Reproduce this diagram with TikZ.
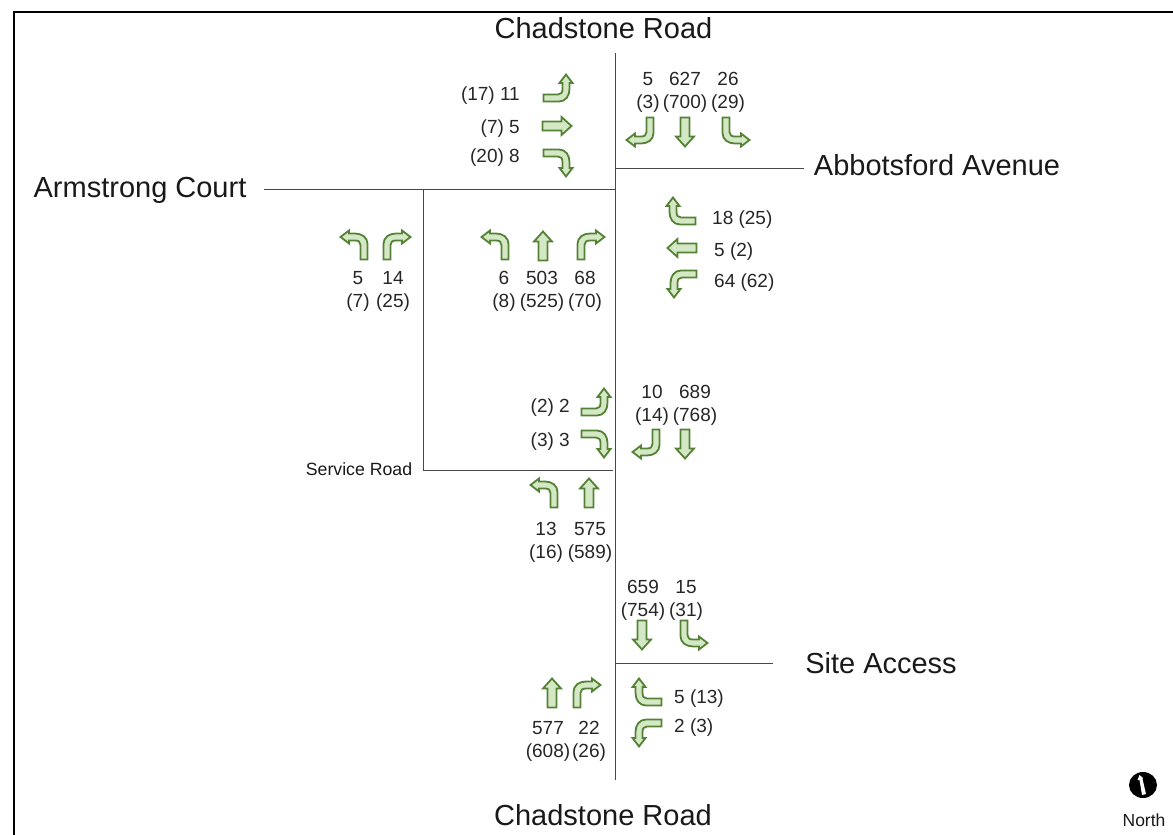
\documentclass[tikz,border=0pt]{standalone}
\usepackage{fontspec}
\setmainfont{Liberation Sans}
\definecolor{arrowline}{HTML}{548235}
\definecolor{arrowfill}{HTML}{D5E8C6}
\definecolor{roadline}{HTML}{484848}
\tikzset{
  road/.style={draw=roadline,line width=1pt},
  frameline/.style={draw=black,line width=1.8pt},
  bigl/.style={inner sep=0pt,font=\fontsize{29}{33}\selectfont,text=black!90},
  smalll/.style={inner sep=0pt,font=\fontsize{17.7}{21}\selectfont,text=black!90},
  cnt/.style={inner sep=0pt,align=center,yshift=-2.3pt,font=\fontsize{19}{23}\selectfont,text=black!85},
  move/.style={draw=arrowline,fill=arrowfill,line width=1.8pt,line join=miter,miter limit=3},
}
% turning movement: enters from below, bends to the right
\newcommand{\bendarrow}[3]{\begin{scope}[shift={(#1,#2)},#3]
  \path[move] (-13.5,14.5) -- (-13.5,-1) .. controls (-13.5,-7.5) and (-8,-11.5) .. (-1,-11.5) -- (5,-11.5) -- (5,-14.5) -- (13.5,-8) -- (5,-1.5) -- (5,-4.5) -- (-1,-4.5) .. controls (-4.5,-4.5) and (-6.5,-3) .. (-6.5,0) -- (-6.5,14.5) -- cycle;
\end{scope}}
% straight movement: points up
\newcommand{\straightarrow}[3]{\begin{scope}[shift={(#1,#2)},#3]
  \path[move] (-4.5,14.5) -- (-4.5,-4.5) -- (-9,-4.5) -- (0,-14.5) -- (9,-4.5) -- (4.5,-4.5) -- (4.5,14.5) -- cycle;
\end{scope}}
\begin{document}
\begin{tikzpicture}[x=1pt,y=-1pt]
\useasboundingbox (0,0) rectangle (1173,835);
\draw[frameline] (14,835) -- (14,12) -- (1173,12);

% road junction points
\coordinate (mainN) at (615,53);
\coordinate (mainS) at (615,780);
\coordinate (abbW) at (615,168);
\coordinate (abbE) at (804,168);
\coordinate (armW) at (264,189);
\coordinate (armE) at (615,189);
\coordinate (svcN) at (423,189);
\coordinate (svcW) at (423,470);
\coordinate (svcE) at (613,470);
\coordinate (siteW) at (615,663);
\coordinate (siteE) at (773,663);
\draw[road] (mainN) -- (mainS);
\draw[road] (abbW) -- (abbE);
\draw[road] (armW) -- (armE);
\draw[road] (svcN) -- (svcW) -- (svcE);
\draw[road] (siteW) -- (siteE);

% road names
\node[bigl] (chadN) at (603.5,28) {Chadstone Road};
\node[bigl] (chadS) at (603,815) {Chadstone Road};
\node[bigl] (abb) at (937,165) {Abbotsford Avenue};
\node[bigl] (arm) at (140,190) {Armstrong Court};
\node[bigl] (site) at (881,663) {Site Access};
\node[smalll] (svc) at (359,469) {Service Road};

% Armstrong / Abbotsford, west side
\bendarrow{558}{88}{rotate=-90,xscale=-1}
\straightarrow{557}{126}{rotate=-90}
\bendarrow{558}{163}{rotate=-90}
\node[cnt,anchor=east] (a1) at (520,93) {(17) 11};
\node[cnt,anchor=east] (a2) at (520,126) {(7) 5};
\node[cnt,anchor=east] (a3) at (520,155) {(20) 8};

% north approach
\bendarrow{640}{132}{rotate=180}
\straightarrow{685}{132}{rotate=180}
\bendarrow{736}{132}{rotate=180,xscale=-1}
\node[cnt] (b1) at (648,90) {5\\(3)};
\node[cnt] (b2) at (685,90) {627\\(700)};
\node[cnt] (b3) at (728,90) {26\\(29)};

% east approach
\bendarrow{681}{211}{rotate=90}
\straightarrow{682}{248}{rotate=90}
\bendarrow{682}{284}{rotate=90,xscale=-1}
\node[cnt,anchor=west] (c1) at (712,217) {18 (25)};
\node[cnt,anchor=west] (c2) at (714,249) {5 (2)};
\node[cnt,anchor=west] (c3) at (714,280) {64 (62)};

% Armstrong Court approach to service road
\bendarrow{354}{245}{xscale=-1}
\bendarrow{397}{245}{}
\node[cnt] (d1) at (358,289) {5\\(7)};
\node[cnt] (d2) at (393,289) {14\\(25)};

% south approach at Abbotsford
\bendarrow{495}{245}{xscale=-1}
\straightarrow{543}{246}{}
\bendarrow{591}{245}{}
\node[cnt] (e1) at (504,289) {6\\(8)};
\node[cnt] (e2) at (542,289) {503\\(525)};
\node[cnt] (e3) at (585,289) {68\\(70)};

% Service Road junction
\bendarrow{596}{402}{rotate=-90,xscale=-1}
\bendarrow{596}{444}{rotate=-90}
\node[cnt,anchor=east] (f1) at (570,405) {(2) 2};
\node[cnt,anchor=east] (f2) at (570,439) {(3) 3};
\bendarrow{646}{444}{rotate=180}
\straightarrow{685}{444}{rotate=180}
\node[cnt] (g1) at (652,403) {10\\(14)};
\node[cnt] (g2) at (695,403) {689\\(768)};
\bendarrow{544}{493}{xscale=-1}
\straightarrow{589}{493}{}
\node[cnt] (h1) at (546,540) {13\\(16)};
\node[cnt] (h2) at (590,540) {575\\(589)};

% Site Access junction
\straightarrow{642}{635}{rotate=180}
\bendarrow{694}{635}{rotate=180,xscale=-1}
\node[cnt] (i1) at (643,598) {659\\(754)};
\node[cnt] (i2) at (686,598) {15\\(31)};
\straightarrow{552}{693}{}
\bendarrow{587}{693}{}
\node[cnt] (j1) at (548,739) {577\\(608)};
\node[cnt] (j2) at (589,739) {22\\(26)};
\bendarrow{647}{692}{rotate=90}
\bendarrow{647}{733}{rotate=90,xscale=-1}
\node[cnt,anchor=west] (k1) at (674,696) {5 (13)};
\node[cnt,anchor=west] (k2) at (674,725) {2 (3)};

% north point
\fill[black] (1143,785) ellipse [x radius=14,y radius=13];
\fill[white] (1146,794) -- (1142,795) -- (1139.5,780) -- (1137.5,780) -- (1139.5,775) -- (1143,778) -- (1142.5,779) -- cycle;
\node[smalll,font=\fontsize{17.5}{20}\selectfont] (north) at (1144,820) {North};
\end{tikzpicture}
\end{document}
